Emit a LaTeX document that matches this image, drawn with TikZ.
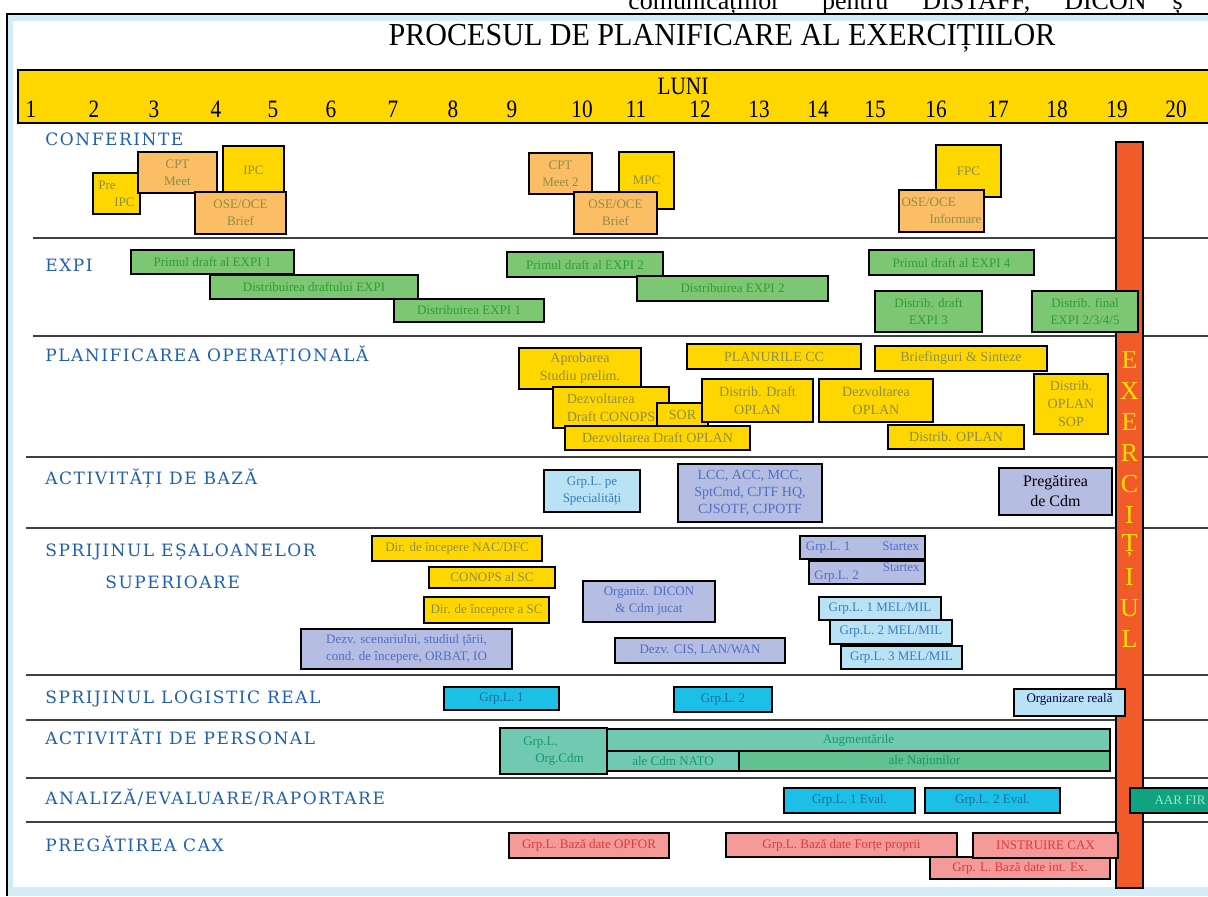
\documentclass[tikz,border=0pt]{standalone}
\usepackage{fontspec}
\setmainfont{Liberation Serif}
\newfontfamily\titlufont[FakeStretch=0.94]{Liberation Serif}
\newfontfamily\lunafont[FakeStretch=0.85]{Liberation Serif}
\newfontfamily\sectfont[LetterSpace=9]{DejaVu Serif}

\definecolor{galben}{HTML}{FFD700}
\definecolor{portocaliu}{HTML}{FBBE64}
\definecolor{verde}{HTML}{7CC674}
\definecolor{lavanda}{HTML}{B6BDE2}
\definecolor{bleu}{HTML}{B9E3F4}
\definecolor{cian}{HTML}{1CBFE6}
\definecolor{turcoaz}{HTML}{72C9B2}
\definecolor{verdedoi}{HTML}{62C190}
\definecolor{verdeinchis}{HTML}{0FA37F}
\definecolor{roz}{HTML}{F49A98}
\definecolor{rosu}{HTML}{F15A29}
\definecolor{albastru}{HTML}{1F5FB4}
\definecolor{cadru}{HTML}{D3ECF8}
\definecolor{gri}{HTML}{404040}
\definecolor{txtmasliniu}{HTML}{8E8E46}
\definecolor{txtverde}{HTML}{2F9F2F}
\definecolor{txtalbastru}{HTML}{4F6FC4}
\definecolor{txtbleu}{HTML}{3A7CC0}
\definecolor{txtcian}{HTML}{1B6F98}
\definecolor{txtturcoaz}{HTML}{139A64}
\definecolor{txtrosu}{HTML}{E03A3A}
\definecolor{txtaar}{HTML}{9FE8D0}
\definecolor{litgalben}{HTML}{FFE000}

\begin{document}
\begin{tikzpicture}[x=0.5pt,y=-0.5pt,
    cutie/.style={draw=black, line width=1pt, anchor=north west, inner sep=1pt,
      align=center, font=\fontsize{6.5}{8.5}\selectfont},
    wh/.style 2 args={minimum width=#1*0.5pt, minimum height=#2*0.5pt},
    galbena/.style={cutie, fill=galben, text=txtmasliniu},
    plan/.style={galbena, font=\fontsize{7}{9}\selectfont},
    portocalie/.style={cutie, fill=portocaliu, text=txtmasliniu},
    verdebox/.style={cutie, fill=verde, text=txtverde},
    lavbox/.style={cutie, fill=lavanda, text=txtalbastru},
    bleubox/.style={cutie, fill=bleu, text=txtbleu},
    cianbox/.style={cutie, fill=cian, text=txtcian},
    turbox/.style={cutie, fill=turcoaz, text=txtturcoaz},
    rozbox/.style={cutie, fill=roz, text=txtrosu},
    sectiune/.style={anchor=base west, inner sep=0pt, text=albastru,
      font=\sectfont\fontsize{8.5}{10}\selectfont},
    luna/.style={inner sep=0pt, font=\lunafont\fontsize{12.5}{13}\selectfont},
    litera/.style={inner sep=0pt, text=litgalben, font=\fontsize{13}{13}\selectfont},
    linie/.style={draw=gri, line width=1pt}]

    \useasboundingbox (0,0) rectangle (1208,896);

    % Cornice della pagina
    \fill[cadru] (6,14) rectangle (1208,896);
    \fill[white] (13,21) rectangle (1208,887);
    \draw[line width=1.2pt] (7,896) -- (7,14) -- (1208,14);

    % Riga di testo tagliata in alto
    \begin{scope}
        \clip (0,0) rectangle (1208,13);
        \node[anchor=base west, inner sep=0pt, font=\fontsize{13}{13}\selectfont] (sus) at (628,9)
            {comunicațiilor\hspace{21pt}pentru\hspace{17pt}DISTAFF,\hspace{17pt}DICON\hspace{13pt}ș};
    \end{scope}

    % Titolo
    \node[inner sep=0pt, font=\titlufont\fontsize{16}{16}\selectfont] (titlu) at (722,38)
        {PROCESUL DE PLANIFICARE AL EXERCIȚIILOR};

    % Banda dei mesi
    \draw[fill=galben, line width=1pt] (18,70) rectangle (1215,123);
    \node[luna] (luni) at (683,86) {LUNI};
    \foreach \nr/\x in {1/31, 2/94, 3/154, 4/216, 5/273, 6/331, 7/393, 8/453, 9/512, 10/582,
        11/636, 12/700, 13/759, 14/818, 15/875, 16/936, 17/998, 18/1057, 19/1117, 20/1176}
        \node[luna] (m\nr) at (\x,109) {\nr};

    % Linee divisorie tra le sezioni
    \foreach \y/\x in {238/33, 336/33, 457/26, 528/26, 675/26, 720/26, 778/26, 822/26}
        \draw[linie] (\x,\y) -- (1208,\y);

    % Nomi delle sezioni
    \node[sectiune] (s1) at (45,145) {CONFERINTE};
    \node[sectiune] (s2) at (45,271) {EXPI};
    \node[sectiune] (s3) at (45,361) {PLANIFICAREA OPERAȚIONALĂ};
    \node[sectiune] (s4) at (45,484) {ACTIVITĂȚI DE BAZĂ};
    \node[sectiune] (s5) at (45,556) {SPRIJINUL EȘALOANELOR};
    \node[sectiune] (s5b) at (105,588) {SUPERIOARE};
    \node[sectiune] (s6) at (45,703) {SPRIJINUL LOGISTIC REAL};
    \node[sectiune] (s7) at (45,744) {ACTIVITĂTI DE PERSONAL};
    \node[sectiune] (s8) at (45,804) {ANALIZĂ/EVALUARE/RAPORTARE};
    \node[sectiune] (s9) at (45,851) {PREGĂTIREA CAX};

    % Barra rossa dell'esercizio
    \draw[fill=rosu, line width=1pt] (1116,142) rectangle (1143,888);
    \foreach \l [count=\i] in {E,X,E,R,C,I,Ț,I,U,L}
        \node[litera] (lit\i) at (1129.5,329+31*\i) {\l};

    % Conferinte
    \node[galbena, wh={47}{41}, align=left] (preipc) at (92,172) {Pre\\\hspace*{8pt}IPC};
    \node[portocalie, wh={79}{41}] (cpt) at (137,151) {CPT\\Meet};
    \node[galbena, wh={61}{48}] (ipc) at (222,145) {IPC};
    \node[portocalie, wh={91}{42}] (ose1) at (194,191) {OSE/OCE\\Brief};
    \node[portocalie, wh={63}{41}] (cpt2) at (528,152) {CPT\\Meet 2};
    \node[galbena, wh={55}{57}] (mpc) at (618,151) {MPC};
    \node[portocalie, wh={83}{42}] (ose2) at (573,191) {OSE/OCE\\Brief};
    \node[galbena, wh={65}{52}] (fpc) at (935,144) {FPC};
    \node[portocalie, wh={85}{42}, align=left] (ose3) at (898,189) {OSE/OCE\\\hspace*{14pt}Informare};

    % EXPI
    \node[verdebox, wh={163}{24}] (exp1) at (130,249) {Primul draft al EXPI 1};
    \node[verdebox, wh={208}{24}] (exp2) at (209,274) {Distribuirea draftului EXPI};
    \node[verdebox, wh={150}{23}] (exp3) at (393,298) {Distribuirea EXPI 1};
    \node[verdebox, wh={156}{25}] (exp4) at (506,251) {Primul draft al EXPI 2};
    \node[verdebox, wh={191}{25}] (exp5) at (636,275) {Distribuirea EXPI 2};
    \node[verdebox, wh={165}{25}] (exp6) at (868,249) {Primul draft al EXPI 4};
    \node[verdebox, wh={107}{41}] (exp7) at (874,290) {Distrib. draft\\EXPI 3};
    \node[verdebox, wh={106}{41}] (exp8) at (1031,290) {Distrib. final\\EXPI 2/3/4/5};

    % Planificarea operationala
    \node[plan, wh={122}{41}] (apr) at (518,347) {Aprobarea\\Studiu prelim.};
    \node[plan, wh={116}{41}, align=left] (dconops) at (552,386) {Dezvoltarea\\Draft CONOPS};
    \node[plan, wh={51}{23}] (sor) at (656,402) {SOR};
    \node[plan, wh={111}{43}] (distd) at (701,378) {Distrib. Draft\\OPLAN};
    \node[plan, wh={185}{24}] (doplan) at (564,425) {Dezvoltarea Draft OPLAN};
    \node[plan, wh={174}{25}] (plcc) at (686,343) {PLANURILE CC};
    \node[plan, wh={114}{43}] (dezop) at (818,378) {Dezvoltarea\\OPLAN};
    \node[plan, wh={172}{25}] (brief) at (874,345) {Briefinguri \& Sinteze};
    \node[plan, wh={136}{24}] (distop) at (887,424) {Distrib. OPLAN};
    \node[plan, wh={74}{60}] (distsop) at (1033,373) {Distrib.\\OPLAN\\SOP};

    % Activitati de baza
    \node[bleubox, wh={96}{42}] (grpspec) at (543,469) {Grp.L. pe\\Specialități};
    \node[lavbox, wh={144}{58}, font=\fontsize{7}{8.5}\selectfont] (lcc) at (677,463)
        {LCC, ACC, MCC,\\SptCmd, CJTF HQ,\\CJSOTF, CJPOTF};
    \node[lavbox, wh={113}{47}, text=black, font=\fontsize{8}{10}\selectfont] (pregcdm) at (998,467)
        {Pregătirea\\de Cdm};

    % Sprijinul esaloanelor superioare
    \node[galbena, wh={170}{25}] (dirnac) at (371,535) {Dir. de începere NAC/DFC};
    \node[galbena, wh={126}{21}] (conopssc) at (428,566) {CONOPS al SC};
    \node[galbena, wh={125}{26}] (dirsc) at (423,596) {Dir. de începere a SC};
    \node[lavbox, wh={211}{40}] (dezvscen) at (300,628)
        {Dezv. scenariului, studiul țării,\\cond. de începere, ORBAT, IO};
    \node[lavbox, wh={132}{41}] (orgdicon) at (582,580) {Organiz. DICON\\\& Cdm jucat};
    \node[lavbox, wh={170}{25}] (dezvcis) at (614,637) {Dezv. CIS, LAN/WAN};
    \node[lavbox, wh={125}{23}] (stx1) at (799,535) {Grp.L. 1\hspace{16pt}Startex};
    \node[lavbox, wh={116}{22}] (stx2) at (808,560) {Grp.L. 2\hspace{12pt}\raisebox{4pt}{Startex}};
    \node[bleubox, wh={122}{23}] (mel1) at (818,596) {Grp.L. 1 MEL/MIL};
    \node[bleubox, wh={122}{24}] (mel2) at (829,619) {Grp.L. 2 MEL/MIL};
    \node[bleubox, wh={121}{23}] (mel3) at (840,645) {Grp.L. 3 MEL/MIL};

    % Sprijinul logistic real
    \node[cianbox, wh={115}{23}] (log1) at (443,686) {Grp.L. 1};
    \node[cianbox, wh={98}{25}] (log2) at (673,686) {Grp.L. 2};
    \node[bleubox, wh={111}{27}, text=black!70!blue] (orgreal) at (1013,688)
        {\raisebox{5pt}{Organizare reală}};

    % Activitati de personal
    \node[turbox, wh={107}{46}, align=left] (orgcdm) at (499,727) {Grp.L.\\\hspace*{6pt}Org.Cdm};
    \node[turbox, wh={503}{22}] (augm) at (606,728) {Augmentările};
    \node[turbox, wh={132}{20}] (natocdm) at (606,750) {ale Cdm NATO};
    \node[turbox, wh={371}{20}, fill=verdedoi] (natiuni) at (738,750) {ale Națiunilor};

    % Analiza / evaluare / raportare
    \node[cianbox, wh={131}{25}] (eval1) at (783,787) {Grp.L. 1 Eval.};
    \node[cianbox, wh={135}{25}] (eval2) at (924,787) {Grp.L. 2 Eval.};
    \node[cutie, wh={100}{25}, fill=verdeinchis, text=txtaar] (aar) at (1129,787) {AAR FIR};

    % Pregatirea CAX
    \node[rozbox, wh={160}{25}] (opfor) at (508,832) {Grp.L. Bază date OPFOR};
    \node[rozbox, wh={180}{22}] (intex) at (929,856) {Grp. L. Bază date int. Ex.};
    \node[rozbox, wh={231}{24}] (fproprii) at (725,832) {Grp.L. Bază date Forțe proprii};
    \node[rozbox, wh={145}{25}] (instr) at (972,832) {INSTRUIRE CAX};

\end{tikzpicture}
\end{document}
